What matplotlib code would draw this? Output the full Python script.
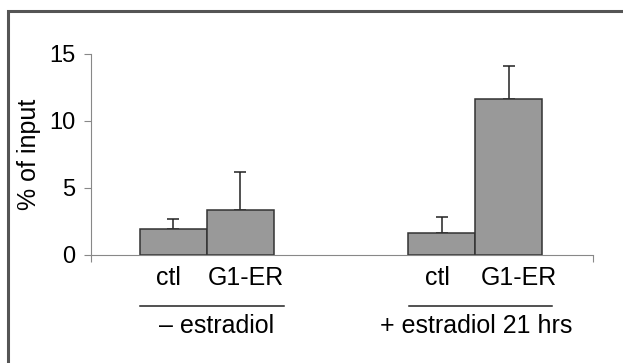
import matplotlib.pyplot as plt
from matplotlib.patches import Rectangle

# data
conditions = ['– estradiol', '+ estradiol 21 hrs']
samples = ['ctl', 'G1-ER']
ctl_values = [1.9, 1.62]
g1er_values = [3.3, 11.62]
ctl_err = [0.76, 1.22]
g1er_err = [2.85, 2.48]
y_ticks = [0, 5, 10, 15]

plt.rcParams['font.family'] = ['Liberation Sans', 'DejaVu Sans']

fig = plt.figure(figsize=(6.23, 3.63), dpi=100)
ax = fig.add_axes([0.1456, 0.2983, 0.8067, 0.5538])

# layout (axis fraction along x)
group_mid = [0.231, 0.765]
width = 0.133
bar_color = '#999999'
edge = '#333333'

ctl_x = [g - width / 2 for g in group_mid]
g1_x = [g + width / 2 for g in group_mid]

ax.bar(ctl_x, ctl_values, width, color=bar_color, edgecolor=edge, linewidth=1.1, zorder=2)
ax.bar(g1_x, g1er_values, width, color=bar_color, edgecolor=edge, linewidth=1.1, zorder=2)
ax.errorbar(ctl_x, ctl_values, yerr=[[0, 0], ctl_err], fmt='none',
            ecolor='#222222', elinewidth=1.1, capsize=4.5, capthick=1.1, zorder=1)
ax.errorbar(g1_x, g1er_values, yerr=[[0, 0], g1er_err], fmt='none',
            ecolor='#222222', elinewidth=1.1, capsize=4.5, capthick=1.1, zorder=1)

ax.set_xlim(0, 1)
ax.set_ylim(0, 15)
ax.set_yticks(y_ticks)
ax.set_yticklabels([str(t) for t in y_ticks], fontsize=17)
ax.set_xticks([0, 1])
ax.set_xticklabels(['', ''])
ax.tick_params(axis='y', direction='out', length=5, width=0.8, color='#888888', pad=6)
ax.tick_params(axis='x', direction='out', length=5, width=0.8, color='#888888')
for s in ['top', 'right']:
    ax.spines[s].set_visible(False)
for s in ['left', 'bottom']:
    ax.spines[s].set_color('#888888')
    ax.spines[s].set_linewidth(0.8)

ax.set_ylabel('% of input', fontsize=18)
ax.yaxis.set_label_coords(-0.098, 0.5)

# sample labels, underlines and condition labels
label_x = [[0.155, 0.309], [0.690, 0.852]]
line_x = [[0.098, 0.385], [0.633, 0.917]]
cond_x = [0.251, 0.767]
for i, cond in enumerate(conditions):
    for j, s in enumerate(samples):
        ax.text(label_x[i][j], -0.118, s, transform=ax.transAxes,
                ha='center', va='center', fontsize=18)
    ax.plot(line_x[i], [-0.254, -0.254], transform=ax.transAxes,
            color='#222222', linewidth=1.1, clip_on=False)
    ax.text(cond_x[i], -0.355, cond, transform=ax.transAxes,
            ha='center', va='center', fontsize=18)

# outer frame (right and bottom edges lie outside the image)
fig.patches.append(Rectangle((8 / 623, -0.2), 1.2, 1.2 - 11 / 363,
                             transform=fig.transFigure, fill=False,
                             edgecolor='#555555', linewidth=2.2))

fig.savefig('out.png', dpi=100)
